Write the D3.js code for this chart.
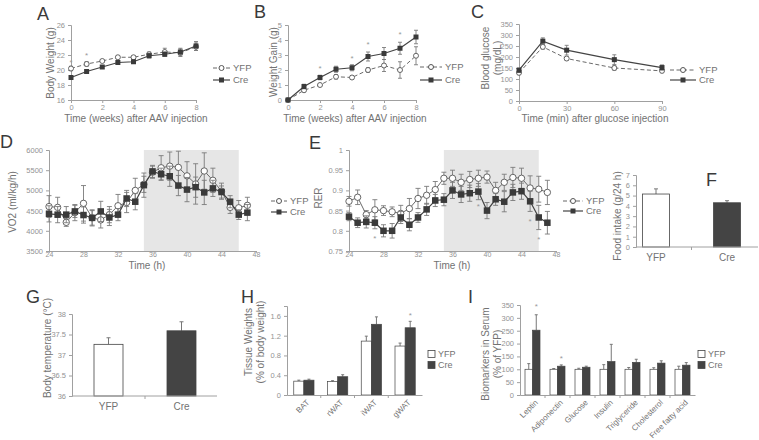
<!DOCTYPE html>
<html><head><meta charset="utf-8">
<script src="https://cdn.jsdelivr.net/npm/d3@7"></script>
<style>
body{margin:0;background:#fff}
svg text{font-family:"Liberation Sans",Arial,Helvetica,sans-serif}
</style></head><body>
<svg id="fig" width="759" height="440"></svg>
<script>
/* Multi-panel figure: YFP vs Cre metabolic phenotype (A–I). */

// A, B: weeks after AAV injection
const WEEKS = [0, 1, 2, 3, 4, 5, 6, 7, 8];
const BW_YFP = [20.2, 20.8, 21.2, 21.7, 21.7, 22.1, 22.4, 22.3, 23.1];
const BW_YFP_ERR = [0.3, 0.3, 0.2, 0.2, 0.2, 0.3, 0.5, 0.5, 0.5];
const BW_CRE = [19.0, 19.8, 20.4, 21.0, 21.1, 21.9, 22.1, 22.4, 23.2];
const BW_CRE_ERR = [0.2, 0.2, 0.2, 0.2, 0.2, 0.3, 0.3, 0.5, 0.6];
const BW_STARS = [[0, 21.2], [1, 22.2]];

const WG_YFP = [0, 0.65, 1.0, 1.55, 1.5, 2.0, 2.3, 2.0, 2.95];
const WG_YFP_ERR = [0, 0.1, 0.1, 0.15, 0.1, 0.15, 0.4, 0.55, 0.6];
const WG_CRE = [0, 0.9, 1.5, 2.05, 2.15, 2.9, 3.1, 3.45, 4.2];
const WG_CRE_ERR = [0, 0.15, 0.15, 0.2, 0.2, 0.3, 0.4, 0.4, 0.45];
const WG_STARS = [[2, 2.22], [4, 2.84], [5, 3.82], [7, 4.49]];

// C: glucose tolerance
const GTT_MIN = [0, 15, 30, 60, 90];
const GTT_YFP = [128, 246, 193, 150, 137];
const GTT_YFP_ERR = [8, 10, 8, 10, 8];
const GTT_CRE = [140, 272, 231, 188, 152];
const GTT_CRE_ERR = [10, 15, 22, 22, 12];

// D, E: indirect calorimetry by hour
const HOURS = [24, 25, 26, 27, 28, 29, 30, 31, 32, 33, 34, 35, 36, 37, 38, 39, 40, 41, 42, 43, 44, 45, 46, 47];
const VO2_YFP = [4600, 4580, 4210, 4450, 4680, 4320, 4270, 4400, 4620, 4700, 5000, 5150, 5450, 5560, 5600, 5570, 5360, 5160, 5480, 5250, 4980, 4580, 4570, 4630];
const VO2_YFP_ERR = [270, 250, 100, 200, 440, 200, 200, 200, 280, 250, 300, 200, 150, 300, 350, 400, 350, 500, 450, 300, 200, 150, 180, 200];
const VO2_CRE = [4420, 4400, 4400, 4480, 4390, 4320, 4480, 4330, 4400, 4800, 4720, 5130, 5470, 5400, 5350, 5120, 5020, 5080, 4950, 5050, 4960, 4720, 4400, 4450];
const VO2_CRE_ERR = [200, 200, 200, 150, 200, 180, 250, 200, 150, 200, 200, 300, 150, 150, 250, 250, 300, 250, 300, 200, 150, 150, 120, 200];

const RER_YFP = [0.873, 0.883, 0.84, 0.852, 0.85, 0.847, 0.843, 0.855, 0.88, 0.888, 0.902, 0.93, 0.93, 0.92, 0.927, 0.93, 0.933, 0.9, 0.92, 0.932, 0.93, 0.906, 0.903, 0.895];
const RER_YFP_ERR = [0.012, 0.018, 0.01, 0.025, 0.012, 0.012, 0.02, 0.025, 0.025, 0.022, 0.02, 0.015, 0.02, 0.02, 0.02, 0.02, 0.015, 0.02, 0.02, 0.025, 0.025, 0.03, 0.032, 0.03];
const RER_CRE = [0.835, 0.82, 0.822, 0.82, 0.8, 0.8, 0.833, 0.815, 0.833, 0.853, 0.875, 0.877, 0.9, 0.89, 0.893, 0.897, 0.85, 0.878, 0.872, 0.895, 0.898, 0.873, 0.833, 0.82];
const RER_CRE_ERR = [0.01, 0.012, 0.015, 0.015, 0.015, 0.018, 0.015, 0.015, 0.012, 0.015, 0.015, 0.015, 0.02, 0.02, 0.02, 0.02, 0.02, 0.015, 0.025, 0.02, 0.02, 0.025, 0.03, 0.028];
const RER_STARS = [[27, 0.785], [39, 0.864], [45, 0.826], [46, 0.783]];
const DARK_PHASE = [35, 46];

// F, G: single-bar comparisons
const GROUPS = ["YFP", "Cre"];
const FOOD = [5.15, 4.3];
const FOOD_ERR = [0.5, 0.2];
const TEMP = [37.26, 37.59];
const TEMP_ERR = [0.16, 0.22];

// H: tissue weights
const TISSUES = ["BAT", "rWAT", "iWAT", "gWAT"];
const TIS_YFP = [0.28, 0.27, 1.09, 0.99];
const TIS_YFP_ERR = [0.02, 0.02, 0.1, 0.06];
const TIS_CRE = [0.30, 0.37, 1.43, 1.36];
const TIS_CRE_ERR = [0.02, 0.04, 0.15, 0.13];
const TIS_STARS = [["gWAT", 1.63]];

// I: serum biomarkers
const MARKERS = ["Leptin", "Adiponectin", "Glucose", "Insulin", "Triglyceride", "Cholesterol", "Free fatty acid"];
const BIO_YFP = [100, 100, 100, 100, 100, 100, 100];
const BIO_YFP_ERR = [22, 3, 4, 18, 7, 6, 12];
const BIO_CRE = [252, 112, 108, 130, 127, 124, 116];
const BIO_CRE_ERR = [60, 5, 4, 67, 12, 9, 10];
const BIO_STARS = [["Leptin", 350], ["Adiponectin", 149]];

const svg = d3.select("#fig");
const AX = "#a0a0a0", TXT = "#727272", TICK = "#939393";

function styleAxis(g, fs) {
  g.select(".domain").attr("stroke", AX);
  g.selectAll(".tick line").attr("stroke", AX);
  g.selectAll(".tick text").attr("fill", TICK).style("font-size", (fs || 7.5) + "px");
  return g;
}
function letter(t, x, y) {
  svg.append("text").attr("x", x).attr("y", y).attr("font-size", 18).attr("fill", "#3a3a3a").text(t);
}
function ytitle(lines, x, cy, fs) {
  lines.forEach((s, i) => {
    svg.append("text").attr("transform", `translate(${x + i * 12},${cy}) rotate(-90)`)
      .attr("text-anchor", "middle").attr("dy", "0.35em")
      .attr("font-size", fs || 10).attr("fill", TXT).text(s);
  });
}
function xtitle(s, cx, y) {
  svg.append("text").attr("x", cx).attr("y", y).attr("text-anchor", "middle")
    .attr("font-size", 10).attr("fill", TXT).text(s);
}
function star(x, y) {
  svg.append("text").attr("x", x).attr("y", y + 4).attr("text-anchor", "middle")
    .attr("font-size", 8).attr("fill", "#999").text("*");
}

function errBars(g, pts, cap) {
  g.selectAll(null).data(pts.filter((p) => p.e > 0)).enter().append("path")
    .attr("fill", "none").attr("stroke", "#7a7a7a").attr("stroke-width", 0.9)
    .attr("d", (p) => `M${p.x},${p.lo}V${p.hi}M${p.x - cap},${p.hi}H${p.x + cap}M${p.x - cap},${p.lo}H${p.x + cap}`);
}

// line series with markers; big = D/E style
function series(x, y, xs, vals, errs, yfp, big) {
  const g = svg.append("g");
  const pts = xs.map((t, i) => ({ x: x(t), y: y(vals[i]), lo: y(vals[i] - errs[i]), hi: y(vals[i] + errs[i]), e: errs[i] }));
  errBars(g, pts, big ? 2.5 : 2);
  g.append("path").datum(pts).attr("fill", "none")
    .attr("stroke", yfp ? "#6a6a6a" : "#444").attr("stroke-width", yfp ? 1 : 1.2)
    .attr("stroke-dasharray", yfp && !big ? "4,2.5" : null)
    .attr("d", d3.line().x((p) => p.x).y((p) => p.y));
  if (yfp) {
    g.selectAll("circle").data(pts).enter().append("circle")
      .attr("cx", (p) => p.x).attr("cy", (p) => p.y).attr("r", big ? 3.2 : 2.5)
      .attr("fill", "#fff").attr("stroke", "#555").attr("stroke-width", 0.9);
  } else {
    const s = big ? 6.5 : 5;
    g.selectAll("rect").data(pts).enter().append("rect")
      .attr("x", (p) => p.x - s / 2).attr("y", (p) => p.y - s / 2).attr("width", s).attr("height", s)
      .attr("fill", "#3a3a3a");
  }
}

function lineLegend(x, yY, yC, w) {
  const g = svg.append("g");
  g.append("line").attr("x1", x).attr("x2", x + w).attr("y1", yY).attr("y2", yY)
    .attr("stroke", "#666").attr("stroke-dasharray", "4,2.5");
  g.append("circle").attr("cx", x + w / 2).attr("cy", yY).attr("r", 2.5)
    .attr("fill", "#fff").attr("stroke", "#555");
  g.append("line").attr("x1", x).attr("x2", x + w).attr("y1", yC).attr("y2", yC)
    .attr("stroke", "#444").attr("stroke-width", 1.2);
  g.append("rect").attr("x", x + w / 2 - 2.5).attr("y", yC - 2.5).attr("width", 5).attr("height", 5).attr("fill", "#3a3a3a");
  [["YFP", yY], ["Cre", yC]].forEach(([t, yy]) => g.append("text").attr("x", x + w + 3).attr("y", yy).attr("dy", "0.35em")
    .attr("font-size", 9.5).attr("fill", TXT).text(t));
}

function linePanel(p) {
  const x = d3.scaleLinear().domain(p.xd).range(p.xr);
  const y = d3.scaleLinear().domain(p.yd).range(p.yr);
  if (p.shade) {
    svg.append("rect").attr("x", x(p.shade[0])).attr("width", x(p.shade[1]) - x(p.shade[0]))
      .attr("y", p.yr[1]).attr("height", p.yr[0] - p.yr[1]).attr("fill", "#e6e6e6");
  }
  styleAxis(svg.append("g").attr("transform", `translate(0,${p.yr[0]})`)
    .call(d3.axisBottom(x).tickValues(p.xt).tickSize(p.big ? 1.5 : 3).tickPadding(p.big ? 0 : 1.5).tickFormat(d3.format("d"))),
    p.big ? 7 : 7.5);
  styleAxis(svg.append("g").attr("transform", `translate(${p.xr[0]},0)`)
    .call(d3.axisLeft(y).tickValues(p.yt).tickSize(3).tickPadding(3).tickFormat(p.yf || d3.format("d"))));
  series(x, y, p.xs, p.yfp, p.yfpE, true, p.big);
  series(x, y, p.xs, p.cre, p.creE, false, p.big);
  (p.stars || []).forEach(([a, b]) => star(x(a), y(b)));
}

// ---- A
letter("A", 37, 20);
linePanel({ xd: [0, 8], xr: [71, 196], yd: [16, 26], yr: [100, 25], xt: [0, 2, 4, 6, 8], yt: [16, 18, 20, 22, 24, 26],
  xs: WEEKS, yfp: BW_YFP, yfpE: BW_YFP_ERR, cre: BW_CRE, creE: BW_CRE_ERR, stars: BW_STARS });
ytitle(["Body Weight (g)"], 50, 63);
xtitle("Time (weeks) after AAV injection", 136, 122);
lineLegend(213, 68, 80, 17);

// ---- B
letter("B", 254, 18);
linePanel({ xd: [0, 8], xr: [288, 416], yd: [0, 5], yr: [100, 25], xt: [0, 2, 4, 6, 8], yt: [0, 1, 2, 3, 4, 5],
  xs: WEEKS, yfp: WG_YFP, yfpE: WG_YFP_ERR, cre: WG_CRE, creE: WG_CRE_ERR, stars: WG_STARS });
ytitle(["Weight Gain (g)"], 273, 62);
xtitle("Time (weeks) after AAV injection", 355, 122);
lineLegend(420, 67, 80, 22);

// ---- C
letter("C", 471, 18);
linePanel({ xd: [0, 90], xr: [519, 662], yd: [0, 350], yr: [101, 24], xt: [0, 30, 60, 90], yt: [0, 50, 100, 150, 200, 250, 300, 350],
  xs: GTT_MIN, yfp: GTT_YFP, yfpE: GTT_YFP_ERR, cre: GTT_CRE, creE: GTT_CRE_ERR });
ytitle(["Blood glucose", "(mg/dL)"], 485, 58);
xtitle("Time (min) after glucose injection", 595, 122);
lineLegend(670, 70, 80, 26);

// ---- D
letter("D", 0, 148);
linePanel({ xd: [24, 48], xr: [49, 256], yd: [3500, 6000], yr: [251, 150], xt: [24, 28, 32, 36, 40, 44, 48],
  yt: [3500, 4000, 4500, 5000, 5500, 6000], xs: HOURS, yfp: VO2_YFP, yfpE: VO2_YFP_ERR, cre: VO2_CRE, creE: VO2_CRE_ERR,
  shade: DARK_PHASE, big: true });
ytitle(["VO2 (ml/kg/h)"], 12, 202);
xtitle("Time (h)", 147, 269);
lineLegend(271, 201, 212, 16);

// ---- E
letter("E", 309, 149);
linePanel({ xd: [24, 48], xr: [349, 556], yd: [0.75, 1], yr: [251, 150], xt: [24, 28, 32, 36, 40, 44, 48],
  yt: [0.75, 0.8, 0.85, 0.9, 0.95, 1], yf: (d) => String(+d.toFixed(2)), xs: HOURS, yfp: RER_YFP, yfpE: RER_YFP_ERR,
  cre: RER_CRE, creE: RER_CRE_ERR, shade: DARK_PHASE, big: true, stars: RER_STARS });
ytitle(["RER"], 318, 198);
xtitle("Time (h)", 452, 269);
lineLegend(563, 201, 211, 20);

// ---- single bar panels: bar centres on a point scale, axis spans ax
function twoBar(p) {
  const x = d3.scalePoint().domain(GROUPS).range(p.cr);
  const y = d3.scaleLinear().domain(p.yd).range(p.yr);
  const g = svg.append("g");
  const pts = GROUPS.map((k, i) => ({ k, x: x(k), v: p.vals[i], e: p.errs[i] }));
  g.selectAll("path").data(pts).enter().append("path").attr("fill", "none").attr("stroke", "#777")
    .attr("d", (d) => `M${d.x},${y(d.v)}V${y(d.v + d.e)}M${d.x - 2},${y(d.v + d.e)}H${d.x + 2}`);
  g.selectAll("rect").data(pts).enter().append("rect")
    .attr("x", (d) => d.x - p.bw / 2).attr("width", p.bw)
    .attr("y", (d) => y(d.v)).attr("height", (d) => y(p.yd[0]) - y(d.v))
    .attr("fill", (d, i) => (i ? "#444" : "#fff")).attr("stroke", "#444").attr("stroke-width", 0.8);
  styleAxis(svg.append("g").attr("transform", `translate(${p.ax[0]},0)`)
    .call(d3.axisLeft(y).tickValues(p.yt).tickSize(3).tickPadding(3).tickFormat((d) => String(d))));
  const xa = svg.append("g").attr("transform", `translate(0,${p.yr[0]})`);
  xa.append("line").attr("x1", p.ax[0]).attr("x2", p.ax[1]).attr("stroke", AX);
  const mid = (x("YFP") + x("Cre")) / 2;
  xa.append("line").attr("x1", mid).attr("x2", mid).attr("y1", 0).attr("y2", 3).attr("stroke", AX);
  GROUPS.forEach((k) => xa.append("text").attr("x", x(k)).attr("y", 14).attr("text-anchor", "middle")
    .attr("font-size", 10).attr("fill", TXT).text(k));
}

letter("F", 706, 186);
twoBar({ ax: [636, 758], cr: [656, 727], bw: 27, yd: [0, 7], yr: [247, 175], yt: [0, 1, 2, 3, 4, 5, 6, 7], vals: FOOD, errs: FOOD_ERR });
ytitle(["Food intake (g/24 h)"], 617, 216);

letter("G", 26, 303);
twoBar({ ax: [72, 217], cr: [108.5, 181.5], bw: 29, yd: [36, 38], yr: [396, 314], yt: [36, 36.5, 37, 37.5, 38], vals: TEMP, errs: TEMP_ERR });
ytitle(["Body temperature (°C)"], 47, 348);

// ---- grouped bar panels
function groupBar(p) {
  const x = d3.scaleBand().domain(p.cats).range(p.xr).paddingInner(0.4).paddingOuter(0.2);
  const sub = d3.scaleBand().domain(GROUPS).range([0, x.bandwidth()]);
  const y = d3.scaleLinear().domain(p.yd).range(p.yr);
  const rows = [];
  p.cats.forEach((c, i) => {
    rows.push({ c, k: "YFP", v: p.yfp[i], e: p.yfpE[i] });
    rows.push({ c, k: "Cre", v: p.cre[i], e: p.creE[i] });
  });
  const g = svg.append("g");
  g.selectAll("path").data(rows).enter().append("path").attr("fill", "none").attr("stroke", "#777")
    .attr("d", (d) => {
      const cx = x(d.c) + sub(d.k) + sub.bandwidth() / 2;
      return `M${cx},${y(d.v)}V${y(d.v + d.e)}M${cx - 1.5},${y(d.v + d.e)}H${cx + 1.5}`;
    });
  g.selectAll("rect").data(rows).enter().append("rect")
    .attr("x", (d) => x(d.c) + sub(d.k)).attr("width", sub.bandwidth())
    .attr("y", (d) => y(d.v)).attr("height", (d) => y(p.yd[0]) - y(d.v))
    .attr("fill", (d) => (d.k === "Cre" ? "#444" : "#fff")).attr("stroke", "#444").attr("stroke-width", 0.7);
  styleAxis(svg.append("g").attr("transform", `translate(${p.xr[0]},0)`)
    .call(d3.axisLeft(y).tickValues(p.yt).tickSize(3).tickPadding(3).tickFormat((d) => String(d))));
  const xa = svg.append("g").attr("transform", `translate(0,${p.yr[0]})`).call(d3.axisBottom(x).tickSize(0).tickFormat(""));
  styleAxis(xa);
  p.cats.slice(1).forEach((c) => {
    const bx = x(c) - x.step() * x.paddingInner() / 2;
    xa.append("line").attr("x1", bx).attr("x2", bx).attr("y1", 0).attr("y2", 3).attr("stroke", AX);
  });
  p.cats.forEach((c) => {
    const cx = x(c) + x.bandwidth() / 2 + 4;
    svg.append("text").attr("transform", `translate(${cx},${p.yr[0] + 6}) rotate(-45)`)
      .attr("text-anchor", "end").attr("dy", "0.35em").attr("font-size", 8).attr("fill", TXT).text(c);
  });
  (p.stars || []).forEach(([c, v]) => star(x(c) + sub("Cre") + sub.bandwidth() / 2, y(v)));
  // legend
  const lg = svg.append("g");
  [["YFP", p.leg[1]], ["Cre", p.leg[2]]].forEach(([t, yy], i) => {
    lg.append("rect").attr("x", p.leg[0]).attr("y", yy - 3.5).attr("width", 7).attr("height", 7)
      .attr("fill", i ? "#444" : "#fff").attr("stroke", "#444").attr("stroke-width", 0.8);
    lg.append("text").attr("x", p.leg[0] + 10).attr("y", yy).attr("dy", "0.35em")
      .attr("font-size", 9).attr("fill", TXT).text(t);
  });
}

letter("H", 241, 303);
groupBar({ cats: TISSUES, xr: [287, 422], yd: [0, 1.8], yr: [395, 306], yt: [0, 0.4, 0.8, 1.2, 1.6],
  yfp: TIS_YFP, yfpE: TIS_YFP_ERR, cre: TIS_CRE, creE: TIS_CRE_ERR, stars: TIS_STARS, leg: [428, 354, 365] });
ytitle(["Tissue Weights", "(% of body weight)"], 248, 342);

letter("I", 468, 303);
groupBar({ cats: MARKERS, xr: [520, 695], yd: [0, 350], yr: [395, 305], yt: [0, 50, 100, 150, 200, 250, 300, 350],
  yfp: BIO_YFP, yfpE: BIO_YFP_ERR, cre: BIO_CRE, creE: BIO_CRE_ERR, stars: BIO_STARS, leg: [698, 354, 365] });
ytitle(["Biomarkers in Serum", "(% of YFP)"], 485, 354);
</script>
</body></html>
